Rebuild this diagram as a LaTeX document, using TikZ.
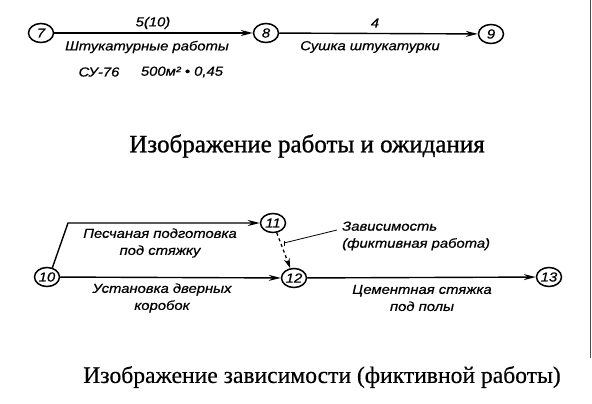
\documentclass[tikz,border=0pt]{standalone}
\usepackage{fontspec}
\setmainfont{Liberation Serif}
\newfontfamily\labfont[FakeStretch=1.14,FakeBold=0.6]{Liberation Sans}
\newfontfamily\ttlfont[FakeBold=0.4]{Liberation Serif}
\newfontfamily\ttlboldfont[FakeBold=1.0]{Liberation Serif}
\usetikzlibrary{arrows.meta,shapes.geometric,calc}
\begin{document}
\begin{tikzpicture}[x=1pt,y=-1pt,
  ev/.style={draw,ellipse,line width=1.5pt,minimum width=25pt,minimum height=19pt,inner sep=0pt,font=\labfont\itshape\fontsize{13}{13}\selectfont},
  work/.style={line width=1.4pt,-{Stealth[length=12pt,width=6pt]}},
  lab/.style={font=\labfont\itshape\fontsize{13}{17}\selectfont,inner sep=0pt,align=center},
  ttl/.style={font=\ttlfont\fontsize{23.6}{26}\selectfont,inner sep=0pt},
  ttlb/.style={font=\ttlboldfont\fontsize{25}{28}\selectfont,inner sep=0pt}]
\useasboundingbox (0,0) rectangle (592,404);
\fill[white] (0,0) rectangle (592,404);
% row 1
\node[ev] (n7) at (41,33) {7};
\node[ev] (n8) at (266,33) {8};
\node[ev] (n9) at (491,34) {9};
\draw[work] (n7) -- (n8);
\draw[work] (n8) -- (n9);
\node[lab] (l510) at (153,23) {5(10)};
\node[lab] (lsht) at (147,47) {Штукатурные работы};
\node[lab] (lsu) at (99,72) {СУ-76};
\node[lab] (lvol) at (182,72) {500м² • 0,45};
\node[lab] (l4) at (375,23) {4};
\node[lab] (lsush) at (370,47) {Сушка штукатурки};
\node[ttlb] (t1) at (307,146) {Изображение работы и ожидания};
% row 2
\node[ev] (n10) at (47,277) {10};
\node[ev] (n11) at (273,223) {11};
\node[ev] (n12) at (294,278) {12};
\node[ev] (n13) at (549,277) {13};
\coordinate (bend) at (68,223);
\draw[work] (n10.60) -- (bend) -- (n11);
\draw[work] (n10) -- (n12);
\draw[work] (n12) -- (n13);
\draw[line width=1.3pt,dash pattern=on 3pt off 3pt,-{Stealth[length=10pt,width=6pt]}] (n11) -- (n12);
\coordinate (lead) at (284,243);
\node[lab] (lpes) at (160,243) {Песчаная подготовка\\под стяжку};
\node[lab] (lust) at (162,298) {Установка дверных\\коробок};
\node[lab,align=left,anchor=west] (lzav) at (342,236) {Зависимость\\(фиктивная работа)};
\draw[line width=0.8pt] (337,230) -- (lead);
\draw[line width=1pt] ($(lead)+(0,-2.5)$) -- ($(lead)+(0,2.5)$);
\node[lab] (lcem) at (422,298) {Цементная стяжка\\под полы};
\node[ttl] (t2) at (322,377) {Изображение зависимости (фиктивной работы)};
\draw[line width=0.8pt,black!70] (590.5,0) -- (590.5,358);
\end{tikzpicture}
\end{document}
